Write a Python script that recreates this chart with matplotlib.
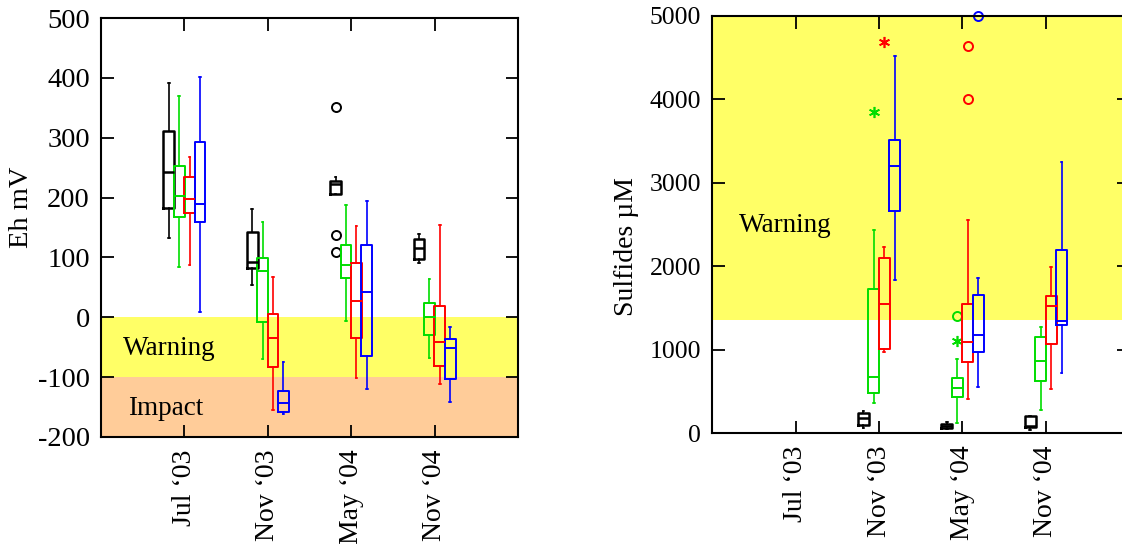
import numpy as np
import matplotlib.pyplot as plt

plt.rcParams['font.family'] = ['Liberation Serif', 'DejaVu Serif']
plt.rcParams['font.size'] = 18.5
plt.rcParams['axes.unicode_minus'] = False

dates = ["Jul \u201803", "Nov \u201803", "May \u201804", "Nov \u201804"]
nan = np.nan

# Eh (mV): rows are the four series, columns the four sampling dates
eh_lo = [[133, 54, 205.5, 90],
         [84, -69, -7, -68],
         [87, -155, -101, -112],
         [8, -161.5, -120, -141]]
eh_q1 = [[182, 83, 205.5, 98],
         [168, -7.5, 65, -29],
         [174, -83, -34, -82],
         [159, -157.5, -64, -103.5]]
eh_med = [[243, 93, 222, 115],
          [203, 78, 88, 0],
          [197, -34, 27, -41.5],
          [189, -144, 43, -51]]
eh_q3 = [[311.5, 142.5, 228, 130],
         [253.5, 99.6, 121, 24],
         [235, 6, 91, 19],
         [292.5, -123.5, 121, -36]]
eh_hi = [[392, 181.5, 235, 139],
         [369, 160, 187, 64],
         [268.5, 67, 152.5, 155],
         [402, -74, 195, -16]]
# (series, date) -> outlying values
eh_out = {(0, 2): [351.6, 137.5, 109.6]}
eh_far = {}

# Sulfides (uM)
su_lo = [[nan, 67, 55, 40],
         [nan, 359, 120, 279],
         [nan, 978, 407, 527],
         [nan, 1835, 559, 718]]
su_q1 = [[nan, 103, 67, 79],
         [nan, 487, 435, 622],
         [nan, 1010, 858, 1069],
         [nan, 2661, 978, 1297]]
su_med = [[nan, 179, 91, 82],
          [nan, 678, 539, 866],
          [nan, 1548, 1097, 1528],
          [nan, 3200, 1177, 1349]]
su_q3 = [[nan, 247, 115, 207],
         [nan, 1732, 666, 1157],
         [nan, 2103, 1544, 1648],
         [nan, 3507, 1656, 2195]]
su_hi = [[nan, 271, 139, 207],
         [nan, 2438, 894, 1277],
         [nan, 2234, 2550, 1987],
         [nan, 4517, 1855, 3252]]
su_out = {(1, 2): [1404], (2, 2): [4636, 4006], (3, 2): [4995]}
su_far = {(1, 1): [3847], (2, 1): [4689], (1, 2): [1105]}

colors = ['black', '#00dd00', 'red', 'blue']
offsets = [-0.1875, -0.0625, 0.0625, 0.1875]


def draw_boxes(ax, lo, q1, med, q3, hi, out, far):
    for s, color in enumerate(colors):
        stats, pos = [], []
        for d in range(len(dates)):
            if np.isnan(med[s][d]):
                continue
            stats.append(dict(whislo=lo[s][d], q1=q1[s][d], med=med[s][d],
                              q3=q3[s][d], whishi=hi[s][d],
                              fliers=np.array(out.get((s, d), []))))
            pos.append(d + 1 + offsets[s])
        lw = 1.8 if s == 0 else 1.4
        ax.bxp(stats, positions=pos, widths=0.13, capwidths=0.02,
               manage_ticks=False,
               boxprops=dict(color=color, lw=lw),
               medianprops=dict(color=color, lw=lw),
               whiskerprops=dict(color=color, lw=1.2),
               capprops=dict(color=color, lw=1.2),
               flierprops=dict(marker='o', mfc='none', mec=color, ms=6.5,
                               mew=1.4, clip_on=False))
        for (fs, fd), vals in far.items():
            if fs != s:
                continue
            ax.plot([fd + 1 + offsets[s]] * len(vals), vals, ls='none',
                    marker=(6, 2, 0), ms=8, mec=color, mew=1.2, clip_on=False)


def style_axes(ax, ysize):
    ax.set_xlim(0, 5)
    ax.set_xticks(range(1, len(dates) + 1))
    ax.set_xticklabels(dates, rotation=90, fontsize=20)
    ax.tick_params(direction='in', length=9, width=1.3, top=True, right=True)
    ax.tick_params(axis='x', pad=9)
    ax.tick_params(axis='y', pad=8, labelsize=ysize)
    for sp in ax.spines.values():
        sp.set_linewidth(1.5)


fig = plt.figure(figsize=(11.22, 5.44), dpi=100)

ax1 = fig.add_axes([0.0900, 0.1967, 0.3717, 0.7702])
ax1.axhspan(-100, 0, color='#ffff66', lw=0, zorder=0)
ax1.axhspan(-200, -100, color='#ffcc99', lw=0, zorder=0)
draw_boxes(ax1, eh_lo, eh_q1, eh_med, eh_q3, eh_hi, eh_out, eh_far)
ax1.set_ylim(-200, 500)
ax1.set_yticks(range(-200, 501, 100))
style_axes(ax1, 20.5)
ax1.text(0.26, -63, 'Warning', fontsize=19.5)
ax1.text(0.33, -164, 'Impact', fontsize=19.5)
ax1.text(-0.19, 0.549, 'Eh mV', rotation=90, ha='center', va='center',
         transform=ax1.transAxes, fontsize=20.5)

ax2 = fig.add_axes([0.6348, 0.2035, 0.3717, 0.7676])
ax2.axhspan(1360, 5000, color='#ffff66', lw=0, zorder=0)
draw_boxes(ax2, su_lo, su_q1, su_med, su_q3, su_hi, su_out, su_far)
ax2.set_ylim(0, 5000)
ax2.set_yticks(range(0, 5001, 1000))
style_axes(ax2, 18.5)
ax2.text(0.32, 2407, 'Warning', fontsize=19.5)
ax2.text(-0.205, 0.446, 'Sulfides \u00b5M', rotation=90, ha='center',
         va='center', transform=ax2.transAxes, fontsize=20)

fig.savefig('out.png', dpi=100)
